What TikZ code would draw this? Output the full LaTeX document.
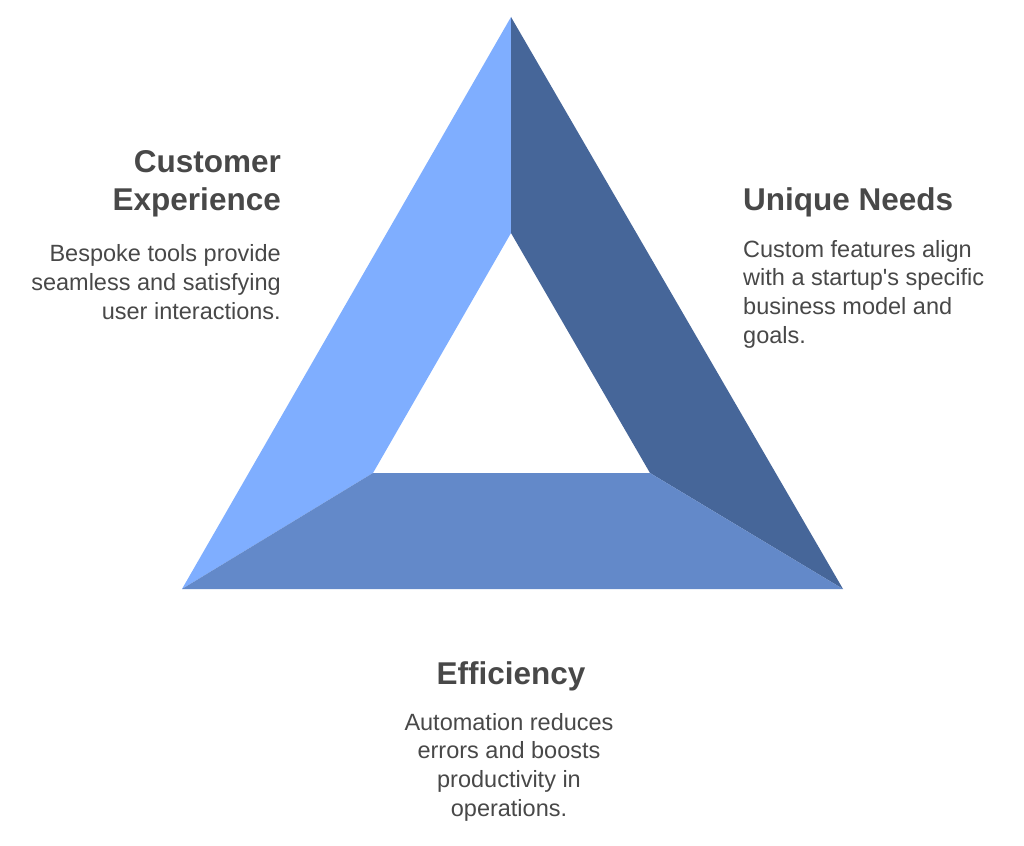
\documentclass[tikz,border=0pt]{standalone}
\usepackage{fontspec}
\setmainfont{Liberation Sans}
\usetikzlibrary{positioning}
\definecolor{faceleft}{HTML}{7FAEFF}
\definecolor{faceright}{HTML}{466699}
\definecolor{facebottom}{HTML}{6389C9}
\definecolor{ink}{HTML}{484848}
\begin{document}
\begin{tikzpicture}[x=1pt, y=-1pt,
             every node/.style = {inner sep=0pt, text=ink},
             title/.style = {font=\fontsize{31.5}{38}\selectfont\bfseries},
             body/.style = {font=\fontsize{23.5}{28.6}\selectfont}]
\useasboundingbox (0,0) rectangle (1024,845);
% corners of the outer and inner triangle
\coordinate (top) at (511,17);
\coordinate (left) at (182,589);
\coordinate (right) at (843,589);
\coordinate (itop) at (511,233);
\coordinate (ileft) at (373,473);
\coordinate (iright) at (650,473);

\fill [faceleft] (top) -- (itop) -- (ileft) -- (left) -- cycle;
\fill [faceright] (top) -- (right) -- (iright) -- (itop) -- cycle;
\fill [facebottom] (left) -- (ileft) -- (iright) -- (right) -- cycle;

% base anchor sits on the last line
\node (cx) [title, align=right, anchor=base east] at (281,210) {Customer\\Experience};
\node (cxtext) [body, align=right, anchor=base east] at (281,319)
  {Bespoke tools provide\\seamless and satisfying\\user interactions.};

\node (needs) [title, align=left, anchor=base west] at (743,210) {Unique Needs};
\node (needstext) [body, align=left, anchor=base west] at (743,343)
  {Custom features align\\with a startup\textquotesingle s specific\\business model and\\goals.};

\node (eff) [title, align=center, anchor=base] at (511,684) {Efficiency};
\node (efftext) [body, align=center, anchor=base] at (509,816)
  {Automation reduces\\errors and boosts\\productivity in\\operations.};
\end{tikzpicture}
\end{document}
